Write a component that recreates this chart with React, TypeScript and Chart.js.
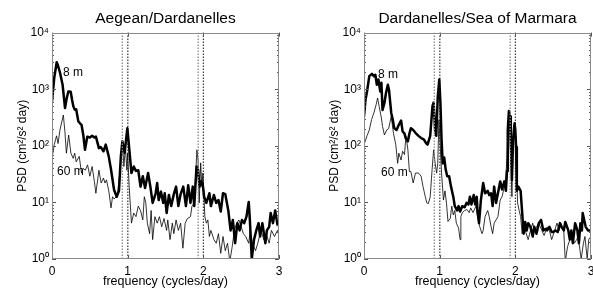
import React, { useEffect, useRef } from 'react';
import { Chart, registerables } from 'chart.js';

Chart.register(...registerables);

const FONT = "'Liberation Sans', Arial, Helvetica, sans-serif";

// ---- axis ticks ----
const xTicks = [0, 1, 2, 3];
const yTicks = [1, 10, 100, 1000, 10000];
const superscripts = ['\u2070', '\u00b9', '\u00b2', '\u00b3', '\u2074'];

// ---- tidal constituent frequencies (O1, K1, M2, S2), cycles/day ----
const tidalFreqs = [0.9295, 1.0027, 1.9323, 2.0];

// ---- Aegean/Dardanelles, 8 m ----
const aegeanFreq8 = [0, 0.03, 0.062, 0.08, 0.106, 0.14, 0.172, 0.195, 0.216, 0.247, 0.265, 0.282, 0.3, 0.32, 0.348, 0.37, 0.39, 0.415, 0.436, 0.466, 0.5, 0.53, 0.56, 0.58, 0.62, 0.645, 0.68, 0.71, 0.75, 0.78, 0.82, 0.855, 0.885, 0.91, 0.93, 0.96, 0.996, 1.03, 1.05, 1.08, 1.11, 1.14, 1.17, 1.2, 1.23, 1.27, 1.3, 1.33, 1.37, 1.39, 1.41, 1.44, 1.47, 1.49, 1.515, 1.545, 1.575, 1.61, 1.64, 1.67, 1.7, 1.735, 1.77, 1.8, 1.83, 1.86, 1.88, 1.91, 1.93, 1.95, 1.97, 1.99, 2.01, 2.04, 2.08, 2.1, 2.14, 2.17, 2.2, 2.23, 2.26, 2.29, 2.33, 2.36, 2.39, 2.42, 2.45, 2.48, 2.51, 2.54, 2.57, 2.6, 2.615, 2.64, 2.67, 2.7, 2.73, 2.75, 2.78, 2.82, 2.84, 2.87, 2.89, 2.92, 2.95, 2.98, 3.0];
const aegeanPsd8 = [600, 1600, 3000, 2600, 1950, 1200, 465, 700, 910, 900, 650, 500, 435, 440, 270, 250, 235, 150, 85, 145, 140, 150, 140, 145, 91, 95, 80, 105, 65, 38, 16.7, 12.6, 16, 65, 120, 75, 205, 65, 33, 43, 36, 37, 19, 29, 18, 33, 19, 9.8, 14.5, 22, 11, 15.5, 9.8, 14.5, 6.5, 13.5, 8.6, 14, 19, 8.6, 14, 19, 8.6, 20, 9.8, 19, 8.6, 43, 38, 19, 23.5, 22, 12.6, 9.8, 14.5, 8.6, 13.5, 9.8, 11, 6.9, 14.5, 14, 7.2, 3.2, 4.9, 1.9, 4.3, 3.2, 4.9, 4.3, 5.6, 10.2, 4.9, 1.0, 2.2, 3.2, 4.3, 2.5, 4.3, 1.9, 3.2, 3.7, 6.5, 4.3, 7.2, 4.0, 5.0];

// ---- Aegean/Dardanelles, 60 m ----
const aegeanFreq60 = [0, 0.03, 0.06, 0.08, 0.105, 0.15, 0.17, 0.19, 0.22, 0.25, 0.28, 0.3, 0.32, 0.36, 0.39, 0.41, 0.44, 0.47, 0.5, 0.53, 0.56, 0.58, 0.62, 0.65, 0.68, 0.7, 0.72, 0.75, 0.78, 0.8, 0.82, 0.85, 0.87, 0.9, 0.92, 0.935, 0.95, 0.97, 0.99, 1.0, 1.02, 1.05, 1.08, 1.11, 1.14, 1.17, 1.2, 1.22, 1.24, 1.26, 1.29, 1.31, 1.33, 1.36, 1.39, 1.42, 1.45, 1.48, 1.515, 1.53, 1.56, 1.59, 1.61, 1.64, 1.67, 1.7, 1.73, 1.76, 1.79, 1.83, 1.85, 1.88, 1.9, 1.915, 1.93, 1.945, 1.965, 1.98, 1.995, 2.02, 2.04, 2.06, 2.08, 2.1, 2.14, 2.17, 2.2, 2.23, 2.26, 2.29, 2.32, 2.35, 2.38, 2.41, 2.44, 2.47, 2.5, 2.53, 2.56, 2.6, 2.62, 2.65, 2.69, 2.72, 2.76, 2.8, 2.83, 2.87, 2.9, 2.94, 2.98, 3.0];
const aegeanPsd60 = [60, 105, 150, 110, 190, 350, 180, 74, 155, 74, 60, 74, 52, 65, 33, 40, 37, 46, 29, 43, 23.5, 14.5, 37, 22, 27, 22, 25, 16, 8, 12.6, 11.5, 12.6, 16, 37, 65, 95, 43, 95, 37, 74, 19, 4.3, 6.5, 5.6, 8.6, 7.2, 4.9, 12.6, 9.8, 4.3, 2.8, 7.2, 2.2, 5.6, 4.3, 5.6, 3.7, 5.2, 3.2, 4.9, 2.2, 4.3, 2.8, 4.9, 3.2, 4.3, 1.55, 4.3, 5.2, 5.6, 8.6, 9.8, 33, 85, 56, 9.8, 50, 19, 33, 5.6, 4.3, 4.9, 2.5, 3.2, 2.2, 1.9, 2.8, 1.26, 2.5, 1.4, 1.9, 0.9, 1.6, 3.2, 4.3, 4.9, 3.7, 2.8, 2.5, 1.9, 3.2, 1.9, 1.4, 1.9, 3.2, 2.2, 2.8, 1.9, 3.2, 2.5, 3.2, 2.6];

// ---- Dardanelles/Sea of Marmara, 8 m ----
const marmaraFreq8 = [0, 0.02, 0.04, 0.07, 0.105, 0.13, 0.15, 0.17, 0.19, 0.215, 0.23, 0.245, 0.27, 0.29, 0.315, 0.33, 0.36, 0.38, 0.4, 0.43, 0.46, 0.49, 0.51, 0.535, 0.55, 0.58, 0.6, 0.62, 0.65, 0.68, 0.72, 0.755, 0.79, 0.82, 0.84, 0.875, 0.905, 0.92, 0.94, 0.955, 0.975, 0.995, 1.01, 1.025, 1.04, 1.06, 1.08, 1.1, 1.125, 1.15, 1.18, 1.2, 1.23, 1.25, 1.27, 1.3, 1.33, 1.355, 1.38, 1.4, 1.42, 1.45, 1.47, 1.49, 1.5, 1.52, 1.545, 1.575, 1.6, 1.635, 1.655, 1.68, 1.7, 1.72, 1.745, 1.77, 1.8, 1.825, 1.855, 1.875, 1.89, 1.9, 1.915, 1.93, 1.94, 1.955, 1.97, 1.99, 2.0, 2.01, 2.02, 2.04, 2.07, 2.1, 2.11, 2.13, 2.15, 2.17, 2.2, 2.23, 2.25, 2.28, 2.31, 2.34, 2.37, 2.4, 2.42, 2.45, 2.48, 2.5, 2.53, 2.56, 2.59, 2.61, 2.64, 2.66, 2.7, 2.72, 2.74, 2.76, 2.79, 2.82, 2.84, 2.86, 2.88, 2.89, 2.91, 2.93, 2.96, 3.0];
const marmaraPsd8 = [330, 650, 910, 1700, 1870, 1700, 1800, 1200, 1480, 910, 1300, 430, 570, 850, 1200, 980, 380, 290, 205, 190, 235, 280, 180, 165, 137, 120, 165, 205, 190, 170, 150, 137, 130, 112, 105, 150, 500, 580, 190, 150, 740, 1480, 580, 130, 49, 62, 38, 29, 29, 19, 12.6, 8.6, 7.2, 8.6, 6.9, 8.6, 8.2, 9.8, 9.2, 12.6, 9.2, 13.5, 9.2, 12.6, 7.2, 4.3, 11, 22, 14.5, 16, 13.5, 14.5, 8.6, 19, 9.8, 14.5, 23.5, 17, 23.5, 16, 36, 190, 410, 330, 130, 25, 130, 250, 190, 95, 16, 19, 16, 4.3, 2.8, 4.5, 3.2, 4.3, 3.7, 2.5, 3.7, 2.8, 4.3, 4.9, 3.2, 3.4, 3.2, 3.7, 3.0, 3.0, 3.2, 3.0, 4.3, 3.7, 3.2, 4.5, 3.2, 2.2, 3.2, 1.9, 4.3, 3.2, 1.9, 4.3, 3.2, 6.5, 4.9, 3.7, 3.2, 3.2];

// ---- Dardanelles/Sea of Marmara, 60 m ----
const marmaraFreq60 = [0, 0.04, 0.07, 0.1, 0.13, 0.16, 0.18, 0.2, 0.23, 0.245, 0.27, 0.3, 0.325, 0.36, 0.39, 0.42, 0.445, 0.46, 0.49, 0.51, 0.535, 0.555, 0.58, 0.6, 0.62, 0.65, 0.68, 0.72, 0.755, 0.78, 0.81, 0.83, 0.85, 0.875, 0.9, 0.92, 0.94, 0.96, 0.975, 0.99, 1.01, 1.025, 1.05, 1.07, 1.09, 1.11, 1.14, 1.16, 1.18, 1.2, 1.22, 1.25, 1.27, 1.28, 1.3, 1.33, 1.36, 1.39, 1.41, 1.44, 1.48, 1.5, 1.53, 1.56, 1.575, 1.6, 1.635, 1.655, 1.68, 1.7, 1.72, 1.745, 1.77, 1.8, 1.825, 1.855, 1.875, 1.89, 1.905, 1.92, 1.935, 1.955, 1.97, 1.99, 2.0, 2.01, 2.03, 2.05, 2.07, 2.09, 2.11, 2.13, 2.17, 2.2, 2.23, 2.25, 2.28, 2.31, 2.35, 2.38, 2.42, 2.45, 2.48, 2.52, 2.55, 2.58, 2.6, 2.64, 2.66, 2.69, 2.72, 2.75, 2.78, 2.81, 2.83, 2.87, 2.9, 2.92, 2.95, 2.97, 3.0];
const marmaraPsd60 = [105, 150, 190, 290, 380, 530, 700, 500, 310, 220, 155, 190, 200, 330, 165, 105, 49, 74, 56, 80, 70, 150, 85, 35, 35, 22, 33, 33, 29, 19, 12.6, 9.8, 9.5, 12.6, 38, 85, 49, 33, 49, 290, 85, 33, 11, 16, 9.8, 4.6, 5.2, 8.6, 6, 7.2, 4.3, 3.5, 2.2, 5.6, 6.6, 7.2, 7.5, 6.6, 8, 6.6, 8.6, 5.6, 3.7, 2.8, 3.2, 5.6, 7.2, 5.6, 3.7, 2.8, 4.3, 4.9, 5.6, 11, 12.6, 19, 29, 65, 260, 300, 85, 12.6, 112, 190, 150, 49, 9.8, 7.2, 5.6, 2.8, 4.3, 3.2, 2.2, 3.2, 4.3, 3.2, 3.7, 4.3, 3.2, 2.6, 3.7, 3.2, 2.2, 3.2, 4.3, 3.2, 4.3, 3.2, 0.9, 1.65, 2.2, 2.5, 1.9, 2.2, 2.5, 1.0, 1.9, 2.5, 1.0, 2.2, 2.5];

// ---- depth labels (text, frequency, PSD at text baseline) ----
const aegeanLabelText = ['8 m', '60 m'];
const aegeanLabelFreq = [0.145, 0.066];
const aegeanLabelPsd = [1740, 30.5];
const marmaraLabelText = ['8 m', '60 m'];
const marmaraLabelFreq = [0.185, 0.225];
const marmaraLabelPsd = [1600, 29.5];

type PanelProps = {
  left: number;
  title: string;
  f8: number[];
  p8: number[];
  f60: number[];
  p60: number[];
  labelText: string[];
  labelFreq: number[];
  labelPsd: number[];
};

const toPoints = (f: number[], p: number[]) => f.map((x, i) => ({ x, y: p[i] }));

function Panel(props: PanelProps) {
  const ref = useRef<HTMLCanvasElement>(null);

  useEffect(() => {
    const canvas = ref.current;
    if (!canvas) return;

    const boxPlugin = {
      id: 'matlabBox',
      afterDatasetsDraw(chart: any) {
        const { ctx, chartArea: a, scales } = chart;
        const xs = scales.x;
        const ys = scales.y;
        ctx.save();
        // ticks
        ctx.strokeStyle = '#555';
        ctx.lineWidth = 1;
        ctx.beginPath();
        for (let d = 0; d < yTicks.length - 1; d++) {
          for (let m = 1; m < 10; m++) {
            const v = yTicks[d] * m;
            const y = Math.round(ys.getPixelForValue(v)) + 0.5;
            const len = m === 1 ? 4 : 2;
            ctx.moveTo(a.left, y);
            ctx.lineTo(a.left + len, y);
            ctx.moveTo(a.right, y);
            ctx.lineTo(a.right - len, y);
          }
        }
        for (const t of xTicks) {
          const x = Math.round(xs.getPixelForValue(t)) + 0.5;
          ctx.moveTo(x, a.bottom);
          ctx.lineTo(x, a.bottom - 4);
          ctx.moveTo(x, a.top);
          ctx.lineTo(x, a.top + 4);
        }
        ctx.stroke();
        // box
        ctx.strokeStyle = '#8a8a8a';
        ctx.strokeRect(Math.round(a.left) + 0.5, Math.round(a.top) + 0.5, Math.round(a.right - a.left) - 1, Math.round(a.bottom - a.top) - 1);
        // depth labels
        ctx.fillStyle = '#000';
        ctx.font = `12px ${FONT}`;
        ctx.textAlign = 'left';
        ctx.textBaseline = 'alphabetic';
        props.labelText.forEach((txt, i) => {
          ctx.fillText(txt, xs.getPixelForValue(props.labelFreq[i]), ys.getPixelForValue(props.labelPsd[i]));
        });
        ctx.restore();
      },
    };

    const tidalSets = tidalFreqs.map((f, i) => ({
      data: [{ x: f, y: 1 }, { x: f, y: 10000 }],
      borderColor: i % 2 === 0 ? '#8c8c8c' : '#111',
      borderWidth: i % 2 === 0 ? 1.3 : 1,
      borderDash: [1.5, 1.5],
      pointRadius: 0,
    }));

    const chart = new Chart(canvas, {
      type: 'line',
      data: {
        datasets: [
          ...tidalSets,
          {
            data: toPoints(props.f60, props.p60),
            borderColor: '#000',
            borderWidth: 0.8,
            pointRadius: 0,
            borderJoinStyle: 'round',
          },
          {
            data: toPoints(props.f8, props.p8),
            borderColor: '#000',
            borderWidth: 2.5,
            pointRadius: 0,
            borderJoinStyle: 'round',
          },
        ] as any,
      },
      options: {
        responsive: false,
        animation: false,
        events: [],
        layout: { padding: { left: 0, right: 17, top: 0, bottom: 0 } },
        plugins: {
          legend: { display: false },
          tooltip: { enabled: false },
          title: {
            display: true,
            text: props.title,
            fullSize: false,
            color: '#000',
            font: { family: FONT, size: 15.5, weight: 'normal' },
            padding: { top: 9, bottom: 5 },
          },
        },
        scales: {
          x: {
            type: 'linear',
            min: 0,
            max: 3,
            afterBuildTicks: (s: any) => {
              s.ticks = xTicks.map((v) => ({ value: v }));
            },
            afterFit: (s: any) => {
              s.height = 30;
            },
            grid: { display: false, drawTicks: false },
            border: { display: false },
            ticks: {
              color: '#000',
              font: { family: FONT, size: 12 },
              padding: 5,
              maxRotation: 0,
              autoSkip: false,
              callback: (v: any) => String(v),
            },
            title: {
              display: true,
              text: 'frequency (cycles/day)',
              color: '#000',
              font: { family: FONT, size: 12.5 },
              padding: { top: 0, bottom: 0 },
            },
          },
          y: {
            type: 'logarithmic',
            min: 1,
            max: 10000,
            afterBuildTicks: (s: any) => {
              s.ticks = yTicks.map((v) => ({ value: v }));
            },
            afterFit: (s: any) => {
              s.width = 52;
            },
            grid: { display: false, drawTicks: false },
            border: { display: false },
            ticks: {
              color: '#000',
              font: { family: FONT, size: 12 },
              padding: 3,
              autoSkip: false,
              callback: (v: any) => '10' + superscripts[Math.round(Math.log10(Number(v)))],
            },
            title: {
              display: true,
              text: 'PSD (cm\u00b2/s\u00b2 day)',
              color: '#000',
              font: { family: FONT, size: 12 },
              padding: { top: 15, bottom: 0 },
            },
          },
        },
      } as any,
      plugins: [boxPlugin],
    });

    return () => chart.destroy();
  }, []);

  return (
    <canvas
      ref={ref}
      width={296}
      height={289}
      style={{ position: 'absolute', left: props.left, top: 0, width: 296, height: 289 }}
    />
  );
}

export default function App() {
  return (
    <div
      style={{
        position: 'fixed',
        left: 0,
        top: 0,
        width: 593,
        height: 289,
        overflow: 'hidden',
        background: '#fff',
      }}
    >
      <Panel
        left={0}
        title="Aegean/Dardanelles"
        f8={aegeanFreq8}
        p8={aegeanPsd8}
        f60={aegeanFreq60}
        p60={aegeanPsd60}
        labelText={aegeanLabelText}
        labelFreq={aegeanLabelFreq}
        labelPsd={aegeanLabelPsd}
      />
      <Panel
        left={312}
        title="Dardanelles/Sea of Marmara"
        f8={marmaraFreq8}
        p8={marmaraPsd8}
        f60={marmaraFreq60}
        p60={marmaraPsd60}
        labelText={marmaraLabelText}
        labelFreq={marmaraLabelFreq}
        labelPsd={marmaraLabelPsd}
      />
    </div>
  );
}
